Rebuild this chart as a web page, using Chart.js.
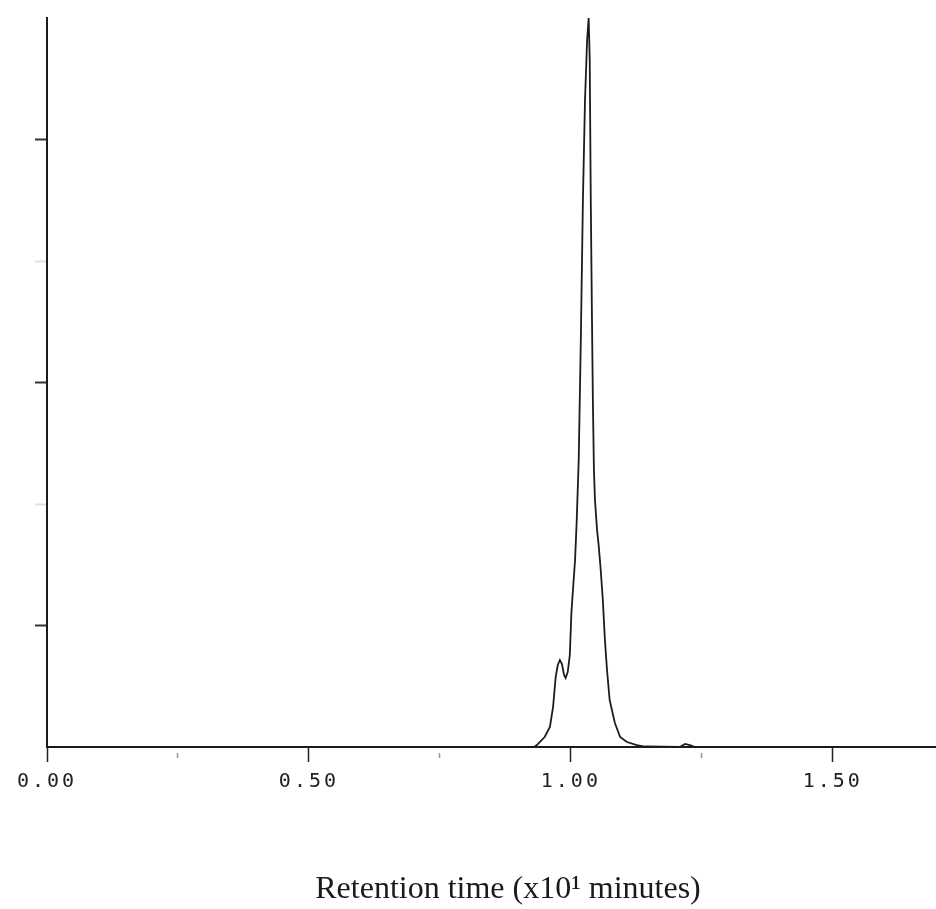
<!DOCTYPE html>
<html>
<head>
<meta charset="utf-8">
<script src="https://cdn.jsdelivr.net/npm/chart.js@4.4.1/dist/chart.umd.min.js"></script>
<style>
  html, body { margin: 0; padding: 0; background: #fff; }
  #wrap { width: 936px; height: 909px; position: relative; }
</style>
</head>
<body>
<div id="wrap"><canvas id="c"></canvas></div>
<script>
// Retention time (x10^1 minutes) and detector response (arbitrary units)
const times = [0.000, 0.930, 0.935, 0.950, 0.960, 0.966, 0.971, 0.975, 0.979, 0.983, 0.987, 0.990, 0.994, 0.998, 1.001, 1.004, 1.008, 1.011, 1.015, 1.019, 1.023, 1.027, 1.031, 1.034, 1.036, 1.038, 1.040, 1.042, 1.044, 1.046, 1.050, 1.053, 1.057, 1.061, 1.065, 1.069, 1.074, 1.084, 1.094, 1.107, 1.126, 1.141, 1.208, 1.218, 1.227, 1.237, 1.697];
const intensity = [0, 0, 0.016, 0.082, 0.165, 0.329, 0.576, 0.675, 0.716, 0.683, 0.593, 0.568, 0.617, 0.757, 1.103, 1.292, 1.539, 1.844, 2.362, 3.350, 4.502, 5.325, 5.819, 6.0, 5.654, 4.502, 3.638, 2.856, 2.280, 2.033, 1.786, 1.663, 1.457, 1.210, 0.881, 0.634, 0.387, 0.198, 0.082, 0.041, 0.016, 0.004, 0, 0.025, 0.015, 0, 0];
const xTickValues = [0, 0.25, 0.5, 0.75, 1.0, 1.25, 1.5];
const xTickLabels = ['0.00', '', '0.50', '', '1.00', '', '1.50'];
const yTickValues = [1, 2, 3, 4, 5];
const xTitle = 'Retention time (x10\u00B9 minutes)';

const points = times.map((t, i) => ({ x: t, y: intensity[i] }));

const styling = {
  id: 'styling',
  beforeDraw(chart) {
    chart.ctx.letterSpacing = '3px';
  },
  afterDraw(chart) {
    const ctx = chart.ctx;
    ctx.save();
    ctx.letterSpacing = '0px';
    ctx.font = '32px "Liberation Serif", "Times New Roman", serif';
    ctx.fillStyle = '#1a1a1a';
    ctx.textAlign = 'center';
    ctx.textBaseline = 'alphabetic';
    ctx.fillText(xTitle, 508, 898);
    ctx.restore();
  }
};

function isMajorX(v) { return Math.abs(v * 2 - Math.round(v * 2)) < 1e-6; }

new Chart(document.getElementById('c'), {
  type: 'line',
  data: {
    datasets: [{
      data: points,
      borderColor: '#1c1c1c',
      borderWidth: 1.8,
      pointRadius: 0,
      tension: 0,
      fill: false
    }]
  },
  options: {
    responsive: true,
    maintainAspectRatio: false,
    animation: false,
    events: [],
    layout: { padding: { top: 18, right: 0, left: 0, bottom: 0 } },
    plugins: { legend: { display: false }, tooltip: { enabled: false }, title: { display: false } },
    scales: {
      x: {
        type: 'linear',
        min: 0,
        max: 1.697,
        afterBuildTicks(scale) {
          scale.ticks = xTickValues.map(v => ({ value: v }));
        },
        afterFit(scale) { scale.height = 162; },
        border: { display: true, color: '#1c1c1c', width: 2 },
        grid: {
          drawOnChartArea: false,
          drawTicks: true,
          tickLength: 15,
          tickWidth: 1.5,
          tickColor: (ctx) => isMajorX(ctx.tick.value) ? '#222' : '#999',
          tickBorderDash: (ctx) => isMajorX(ctx.tick.value) ? [] : [0, 5, 5, 40]
        },
        ticks: {
          autoSkip: false,
          maxRotation: 0,
          padding: 8,
          color: '#222',
          font: { family: '"DejaVu Sans Mono", monospace', size: 20 },
          callback: (v) => {
            const i = xTickValues.findIndex(t => Math.abs(t - v) < 1e-6);
            return i >= 0 ? xTickLabels[i] : '';
          }
        }
      },
      y: {
        type: 'linear',
        min: 0,
        max: 6,
        afterBuildTicks(scale) {
          scale.ticks = yTickValues.map(v => ({ value: v }));
        },
        afterFit(scale) { scale.width = 47; },
        border: { display: true, color: '#1c1c1c', width: 2 },
        grid: {
          drawOnChartArea: false,
          drawTicks: true,
          tickLength: 12,
          tickWidth: 2,
          tickColor: (ctx) => (ctx.tick.value % 2 === 1) ? '#333' : '#e0e0e0'
        },
        ticks: { display: false }
      }
    }
  },
  plugins: [styling]
});
</script>
</body>
</html>
